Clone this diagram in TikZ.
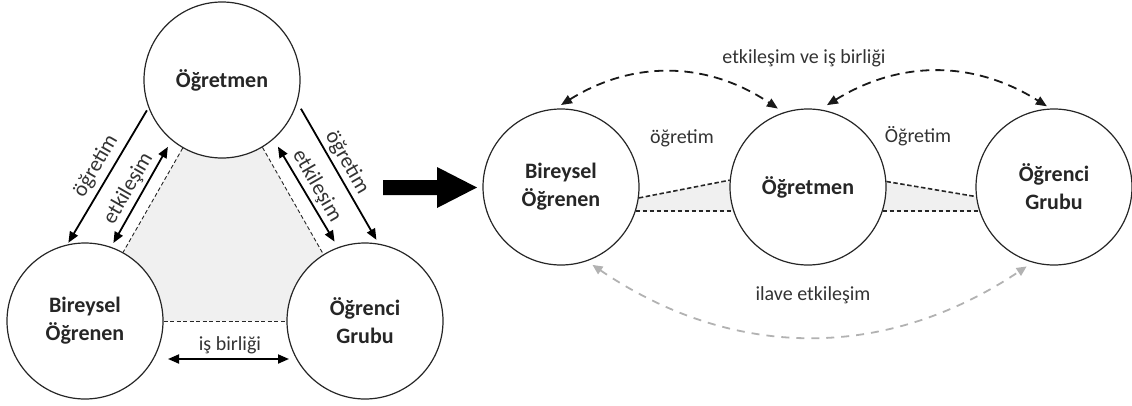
\documentclass[tikz,border=0pt]{standalone}
\usepackage{fontspec}
\setmainfont{Carlito}
\usetikzlibrary{arrows.meta,calc,backgrounds}
\begin{document}
\begin{tikzpicture}[x=1pt,y=1pt,
  >={Triangle[length=11pt,width=9pt]},
  circ/.style={circle,draw=black!85,line width=1.2pt,fill=white,minimum size=156pt,inner sep=0pt,align=center,font=\fontsize{22}{28}\selectfont\bfseries,text=black!85},
  lbl/.style={font=\fontsize{20}{24}\selectfont,text=black!80},
  rlbl/.style={font=\fontsize{21.5}{24}\selectfont,text=black!80,inner sep=0pt},
  solidarr/.style={line width=1.8pt,draw=black},
  thindash/.style={line width=0.9pt,dash pattern=on 4pt off 2.5pt,draw=black!85},
  thickdash/.style={line width=1.6pt,dash pattern=on 4.5pt off 2.5pt,draw=black!85},
  topdash/.style={line width=1.8pt,dash pattern=on 9pt off 6pt,draw=black!90},
  graydash/.style={line width=1.8pt,dash pattern=on 8pt off 7pt,draw=black!30,>={Triangle[length=10pt,width=9pt]}},
  shade/.style={fill=black!6}
]
\useasboundingbox (0,0) rectangle (1132,-405);

% ---------- left diagram ----------
\node[circ] (T) at (222,-80) {Öğretmen};
\node[circ] (B) at (85,-321) {Bireysel\\Öğrenen};
\node[circ] (G) at (365,-321) {Öğrenci\\Grubu};

\begin{scope}[on background layer]
  \fill[shade] (T.240) -- (T.301) -- (G.122) -- (G.180) -- (B.0) -- (B.61) -- cycle;
\end{scope}

\draw[thindash] (T.240) -- (B.61);
\draw[thindash] (T.301) -- (G.122);
\draw[thindash] (B.0) -- (G.180);

\coordinate (o1) at ($(T)+(202:81)$);
\coordinate (o2) at ($(B)+(102:80)$);
\coordinate (e1) at ($(T)+(231:86)$);
\coordinate (e2) at ($(B)+(70:83)$);
\coordinate (e3) at ($(T)+(310:87)$);
\coordinate (e4) at ($(G)+(111:85)$);
\coordinate (o3) at ($(T)+(340:84)$);
\coordinate (o4) at ($(G)+(82:82)$);
\coordinate (i1) at ($(B)+(83,-38)$);
\coordinate (i2) at ($(G)+(-76,-38)$);

\draw[solidarr,->] (o1) -- (o2);
\draw[solidarr,<->] (e1) -- (e2);
\draw[solidarr,<->] (e3) -- (e4);
\draw[solidarr,->] (o3) -- (o4);
\draw[solidarr,<->] (i1) -- (i2);

\node[rlbl,rotate=60] (lo1) at (96,-166) {öğretim};
\node[rlbl,rotate=60] (le1) at (128.5,-188.5) {etkileşim};
\node[rlbl,rotate=-60] (le2) at (317,-186) {etkileşim};
\node[rlbl,rotate=-60] (lo2) at (347,-162.5) {öğretim};
\node[lbl] (lib) at (230,-345) {iş birliği};

% ---------- big arrow ----------
\fill[black] (383,-180) -- (437,-180) -- (437,-167) -- (477,-187.5) -- (437,-208) -- (437,-195) -- (383,-195) -- cycle;

% ---------- right diagram ----------
\node[circ] (RB) at (561,-187) {Bireysel\\Öğrenen};
\node[circ] (RT) at (808,-187) {Öğretmen};
\node[circ] (RG) at (1054,-187) {Öğrenci\\Grubu};

\begin{scope}[on background layer]
  \fill[shade] (RB.-8) -- (RT.175) -- (RT.198) -- (RB.-18) -- cycle;
  \fill[shade] (RT.4) -- (RG.187) -- (RG.198) -- (RT.-18) -- cycle;
\end{scope}

\draw[thickdash] (RB.-8) -- (RT.175);
\draw[thickdash] (RB.-18) -- (RT.198);
\draw[thickdash] (RT.4) -- (RG.187);
\draw[thickdash] (RT.-18) -- (RG.198);

\coordinate (a1) at ($(RB)+(90:82)$);
\coordinate (a2) at ($(RT)+(111:84)$);
\coordinate (a3) at ($(RT)+(77:84)$);
\coordinate (a4) at ($(RG)+(95:81)$);
\draw[topdash,<->] (a1) to[bend left=33] (a2);
\draw[topdash,<->] (a3) to[bend left=32] (a4);

\coordinate (g1) at ($(RB)+(-68:84)$);
\coordinate (g2) at ($(RG)+(251:84)$);
\draw[graydash,<->] (g1) to[bend right=34] (g2);

\node[lbl] (lev) at (804,-58) {etkileşim ve iş birliği};
\node[lbl] (lro1) at (682,-138) {öğretim};
\node[lbl] (lro2) at (918,-136) {Öğretim};
\node[lbl] (lil) at (813,-295) {ilave etkileşim};
\end{tikzpicture}
\end{document}
